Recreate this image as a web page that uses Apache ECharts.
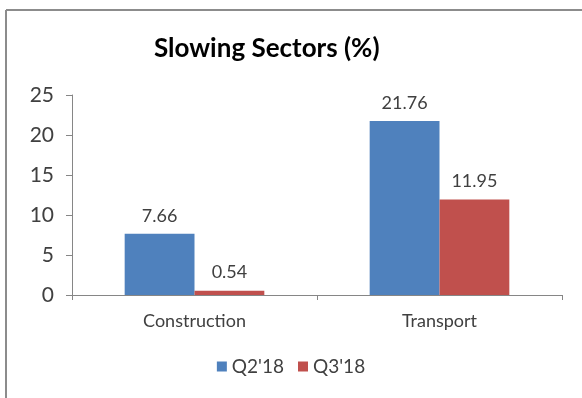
<!DOCTYPE html>
<html>
<head>
<meta charset="utf-8">
<script src="https://cdn.jsdelivr.net/npm/echarts@6/dist/echarts.min.js"></script>
<style>html,body{margin:0;padding:0;background:#fff;}#c{width:582px;height:398px;}</style>
</head>
<body>
<div id="c"></div>
<script>
const categories = ['Construction', 'Transport'];
const seriesNames = ["Q2'18", "Q3'18"];
const q2Values = [7.66, 21.76];
const q3Values = [0.54, 11.95];
const yTicks = [0, 5, 10, 15, 20, 25];

const chart = echarts.init(document.getElementById('c'), null, {renderer: 'canvas'});
const font = 'Lato, "Open Sans", sans-serif';
const barLabel = {show: true, position: 'top', distance: 9, color: '#404040', fontSize: 18, fontFamily: font,
  formatter: p => p.value.toFixed(2)};
chart.setOption({
  backgroundColor: '#fff',
  animation: false,
  title: {text: 'Slowing Sectors (%)', left: 149, top: 31,
    textStyle: {fontFamily: font, fontWeight: 'bold', fontSize: 26, color: '#000'}},
  graphic: [
    {type: 'line', shape: {x1: 6, y1: 10, x2: 6, y2: 398}, style: {stroke: '#8c8c8c', lineWidth: 2}},
    {type: 'line', shape: {x1: 6, y1: 10, x2: 582, y2: 10}, style: {stroke: '#8c8c8c', lineWidth: 2}}
  ],
  legend: {data: seriesNames, bottom: 17, left: 'center', itemWidth: 10, itemHeight: 10, itemGap: 14,
    icon: 'rect', textStyle: {fontFamily: font, fontSize: 19, color: '#404040'}},
  grid: {left: 72, right: 20, top: 95, bottom: 103, containLabel: false},
  xAxis: {type: 'category', data: categories,
    axisLine: {lineStyle: {color: '#868686', width: 1}},
    axisTick: {show: true, length: 5, lineStyle: {color: '#868686'}},
    axisLabel: {fontFamily: font, fontSize: 18, color: '#404040', margin: 17}},
  yAxis: {type: 'value', min: yTicks[0], max: yTicks[yTicks.length - 1], interval: 5,
    splitLine: {show: false},
    axisLine: {show: true, lineStyle: {color: '#868686', width: 1}},
    axisTick: {show: true, length: 6, lineStyle: {color: '#868686'}},
    axisLabel: {fontFamily: font, fontSize: 21, color: '#404040', margin: 18}},
  series: [
    {name: seriesNames[0], type: 'bar', data: q2Values, barGap: '0%', barCategoryGap: '43%',
      itemStyle: {color: '#4F81BD'}, label: barLabel},
    {name: seriesNames[1], type: 'bar', data: q3Values, barGap: '0%', barCategoryGap: '43%',
      itemStyle: {color: '#C0504D'}, label: barLabel}
  ]
});
</script>
</body>
</html>
